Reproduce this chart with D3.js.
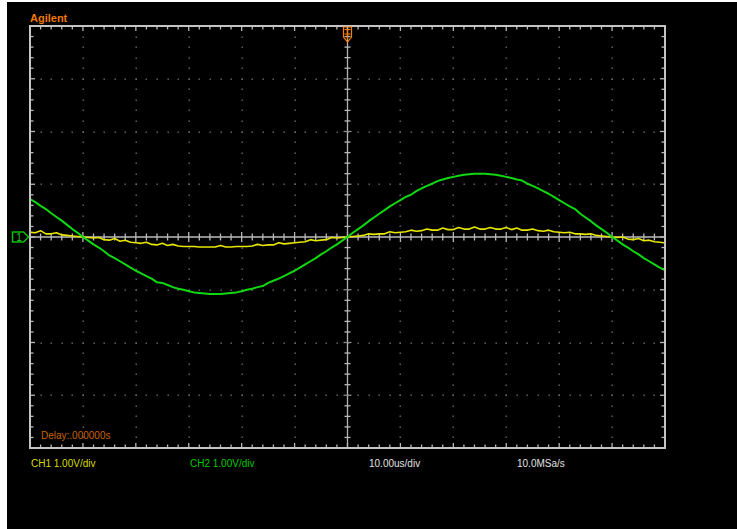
<!DOCTYPE html>
<html><head><meta charset="utf-8">
<script src="https://cdn.jsdelivr.net/npm/d3@7"></script>
<style>html,body{margin:0;padding:0;background:#fff;}svg{display:block;}</style>
</head><body>
<script>
const timeUs = d3.range(-60, 61, 1);            // sample times, µs (10 µs/div, 12 div)
const ch1Volts = [
 0.09,0.08,0.12,0.06,0.06,0.08,0.04,0.03,0.02,0.01,
 0.00,-0.01,-0.02,-0.01,-0.05,-0.06,-0.03,-0.08,-0.06,-0.10,
 -0.11,-0.12,-0.10,-0.14,-0.15,-0.12,-0.16,-0.14,-0.17,-0.18,
 -0.18,-0.18,-0.19,-0.19,-0.19,-0.19,-0.16,-0.19,-0.19,-0.18,
 -0.18,-0.18,-0.17,-0.14,-0.16,-0.15,-0.15,-0.11,-0.13,-0.12,
 -0.11,-0.10,-0.09,-0.05,-0.07,-0.06,-0.05,-0.01,-0.02,-0.01,
 0.00,0.01,0.02,0.03,0.06,0.05,0.06,0.06,0.10,0.08,
 0.09,0.10,0.13,0.11,0.12,0.15,0.13,0.13,0.17,0.14,
 0.14,0.18,0.15,0.15,0.19,0.15,0.15,0.18,0.15,0.15,
 0.18,0.14,0.17,0.13,0.13,0.15,0.12,0.11,0.13,0.10,
 0.09,0.08,0.09,0.06,0.06,0.05,0.06,0.03,0.02,0.01,
 0.00,-0.01,0.00,-0.04,-0.05,-0.03,-0.07,-0.06,-0.09,-0.10,-0.11
];
const ch2Volts = [
 0.72,0.66,0.59,0.53,0.45,0.38,0.31,0.23,0.15,0.08,
 0.00,-0.07,-0.14,-0.20,-0.27,-0.35,-0.40,-0.46,-0.52,-0.58,
 -0.64,-0.69,-0.74,-0.79,-0.86,-0.87,-0.91,-0.95,-0.98,-1.00,
 -1.03,-1.05,-1.06,-1.07,-1.08,-1.08,-1.08,-1.07,-1.06,-1.05,
 -1.03,-1.00,-0.98,-0.95,-0.93,-0.87,-0.83,-0.79,-0.74,-0.69,
 -0.64,-0.58,-0.52,-0.46,-0.40,-0.33,-0.27,-0.20,-0.14,-0.07,
 0.00,0.08,0.15,0.22,0.30,0.37,0.44,0.51,0.58,0.64,
 0.70,0.76,0.80,0.87,0.92,0.97,1.01,1.06,1.09,1.12,
 1.14,1.16,1.18,1.19,1.20,1.20,1.20,1.19,1.18,1.16,
 1.14,1.12,1.09,1.07,1.01,0.97,0.92,0.87,0.82,0.76,
 0.70,0.64,0.58,0.53,0.44,0.37,0.30,0.22,0.15,0.08,
 0.00,-0.07,-0.14,-0.20,-0.27,-0.33,-0.40,-0.46,-0.52,-0.58,-0.63
];
const timeDomain = [-60, 60];     // µs
const voltDomain = [-4, 4];       // V (1 V/div, 8 div)
const brandLabel = "Agilent";
const delayLabel = "Delay:.000000s";
const ch1Label = "CH1 1.00V/div";
const ch2Label = "CH2 1.00V/div";
const timebaseLabel = "10.00us/div";
const sampleLabel = "10.0MSa/s";

// ---- drawing ----
const W = 737, H = 529;
const svg = d3.select("body").append("svg").attr("width", W).attr("height", H);
svg.append("rect").attr("width", W).attr("height", H).attr("fill", "#fff");
svg.append("rect").attr("x", 7).attr("y", 2).attr("width", W - 7).attr("height", H - 2).attr("fill", "#000");

const L = 30, R = 665, T = 26, B = 448;
const x = d3.scaleLinear().domain(timeDomain).range([L, R]);
const y = d3.scaleLinear().domain(voltDomain).range([B, T]);

const xMajor = d3.range(timeDomain[0], timeDomain[1] + 0.01, 10);
const xMinor = d3.range(timeDomain[0], timeDomain[1] + 0.01, 2);
const yMajor = d3.range(voltDomain[0], voltDomain[1] + 0.001, 1);
const yMinor = d3.range(voltDomain[0], voltDomain[1] + 0.001, 0.2).map(v => Math.round(v * 10) / 10);

// dotted graticule
const dots = svg.append("g").attr("fill", "#6e6e6e");
xMajor.filter(t => t > timeDomain[0] && t < timeDomain[1] && t !== 0).forEach(t => {
  yMinor.forEach(v => dots.append("rect").attr("x", Math.round(x(t)) - 0.5).attr("y", Math.round(y(v)) - 0.5).attr("width", 1.4).attr("height", 1.4));
});
yMajor.filter(v => v > voltDomain[0] && v < voltDomain[1] && v !== 0).forEach(v => {
  xMinor.forEach(t => dots.append("rect").attr("x", Math.round(x(t)) - 0.5).attr("y", Math.round(y(v)) - 0.5).attr("width", 1.4).attr("height", 1.4));
});

// centre cross-hair
const cx = x(0), cy = y(0);
const axes = svg.append("g");
axes.append("line").attr("x1", L).attr("x2", R).attr("y1", cy).attr("y2", cy).attr("stroke", "#8c8c8c").attr("stroke-width", 2);
axes.append("line").attr("x1", cx).attr("x2", cx).attr("y1", T).attr("y2", B).attr("stroke", "#b4b4b4").attr("stroke-width", 1.3);
xMinor.forEach(t => {
  const len = xMajor.includes(t) ? 5 : 3.5;
  axes.append("line").attr("x1", x(t)).attr("x2", x(t)).attr("y1", cy - len).attr("y2", cy + len).attr("stroke", "#b8b8b8").attr("stroke-width", 1.3);
});
yMinor.forEach(v => {
  const len = Number.isInteger(v) ? 4 : 3;
  axes.append("line").attr("x1", cx - len).attr("x2", cx + len).attr("y1", y(v)).attr("y2", y(v)).attr("stroke", Number.isInteger(v) ? "#8a8a8a" : "#b8b8b8").attr("stroke-width", 1.3);
});

// frame ticks
const fr = svg.append("g").attr("stroke", "#b8b8b8").attr("stroke-width", 1.3);
xMinor.forEach(t => {
  const len = xMajor.includes(t) ? 5 : 3.5;
  fr.append("line").attr("x1", x(t)).attr("x2", x(t)).attr("y1", T).attr("y2", T + len);
  fr.append("line").attr("x1", x(t)).attr("x2", x(t)).attr("y1", B).attr("y2", B - len);
});
yMinor.forEach(v => {
  const len = Number.isInteger(v) ? 5 : 3.5;
  fr.append("line").attr("x1", L).attr("x2", L + len).attr("y1", y(v)).attr("y2", y(v));
  fr.append("line").attr("x1", R).attr("x2", R - len).attr("y1", y(v)).attr("y2", y(v));
});

// traces
svg.append("clipPath").attr("id", "scr").append("rect").attr("x", L + 1).attr("y", T + 1).attr("width", R - L - 2).attr("height", B - T - 2);
const line = d3.line().x(d => x(d[0])).y(d => y(d[1])).curve(d3.curveLinear);
const tr = svg.append("g").attr("clip-path", "url(#scr)");
tr.append("path").datum(timeUs.map((t, i) => [t, ch1Volts[i]])).attr("d", line)
  .attr("fill", "none").attr("stroke", "#e6e600").attr("stroke-width", 1.6).attr("stroke-linejoin", "bevel");
tr.append("path").datum(timeUs.map((t, i) => [t, ch2Volts[i]])).attr("d", line)
  .attr("fill", "none").attr("stroke", "#10d810").attr("stroke-width", 2).attr("stroke-linejoin", "bevel");

// frame
svg.append("rect").attr("x", L).attr("y", T).attr("width", R - L).attr("height", B - T)
  .attr("fill", "none").attr("stroke", "#c4c4c4").attr("stroke-width", 2);

// trigger marker (top)
const tg = svg.append("g").attr("fill", "none").attr("stroke", "#ff8000").attr("stroke-width", 1.2);
tg.append("path").attr("d", `M${cx - 4},${T + 1} h8 v10 l-4,5 l-4,-5 Z`);
tg.append("path").attr("d", `M${cx - 3},${T + 3.5} h6 M${cx},${T + 3.5} v10 M${cx - 3},${T + 8} h6`);

// ground marker (left)
const gm = svg.append("g");
gm.append("path").attr("d", `M12.5,${cy - 5} h11 l5,5 l-5,5 h-11 Z`).attr("fill", "none").attr("stroke", "#00c000").attr("stroke-width", 1.5);
gm.append("text").attr("x", 19).attr("y", cy + 4).attr("font-size", 10).attr("font-family", "Liberation Sans, Arial, sans-serif").attr("fill", "#30c030").attr("text-anchor", "middle").text("1");

// texts
const font = "Liberation Sans, Arial, sans-serif";
svg.append("text").attr("x", 30).attr("y", 21.5).attr("font-family", font).attr("font-size", 11).attr("font-weight", "bold").attr("fill", "#f07800").text(brandLabel);
svg.append("text").attr("x", 41).attr("y", 439).attr("font-family", font).attr("font-size", 10).attr("fill", "#c86400").text(delayLabel);
svg.append("text").attr("x", 31).attr("y", 467).attr("font-family", font).attr("font-size", 10).attr("fill", "#d8d800").text(ch1Label);
svg.append("text").attr("x", 190).attr("y", 467).attr("font-family", font).attr("font-size", 10).attr("fill", "#00c800").text(ch2Label);
svg.append("text").attr("x", 369).attr("y", 467).attr("font-family", font).attr("font-size", 10).attr("fill", "#e0e0e0").text(timebaseLabel);
svg.append("text").attr("x", 517).attr("y", 467).attr("font-family", font).attr("font-size", 10).attr("fill", "#e0e0e0").text(sampleLabel);
</script>
</body></html>
